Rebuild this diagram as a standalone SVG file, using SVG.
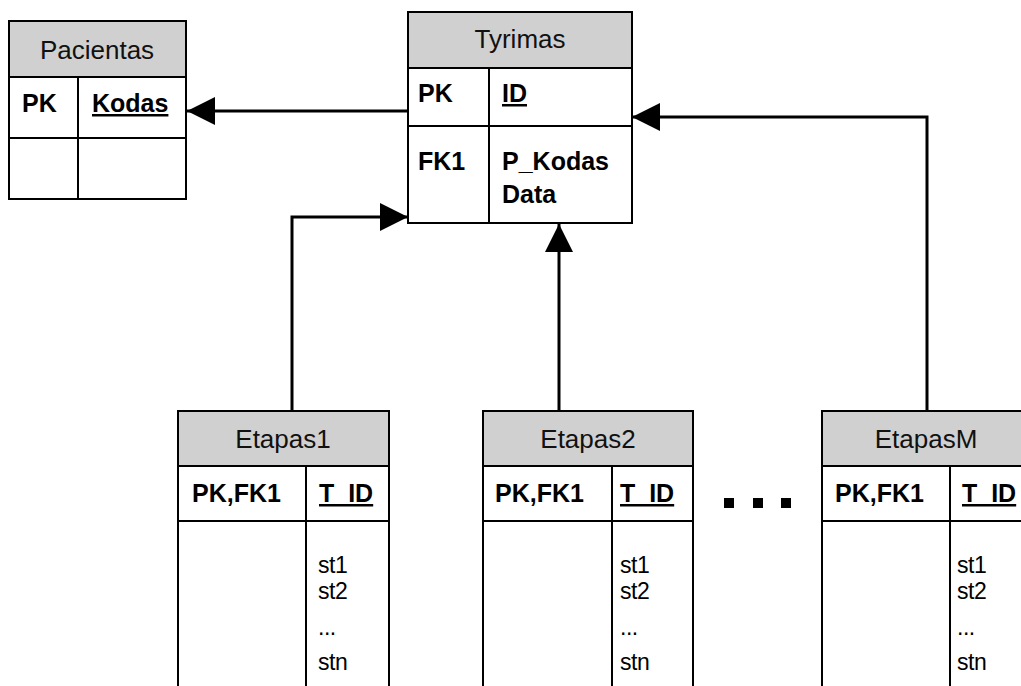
<svg xmlns="http://www.w3.org/2000/svg" width="1021" height="686" viewBox="0 0 1021 686">
  <style>
    .box { fill: #ffffff; stroke: #000000; stroke-width: 2; }
    .head { fill: #d0d0d0; stroke: #000000; stroke-width: 2; }
    .div { stroke: #000000; stroke-width: 2; fill: none; }
    .title { font-family: "Liberation Sans", Arial, sans-serif; font-size: 26px; fill: #111111; text-anchor: middle; }
    .key { font-family: "Liberation Sans", Arial, sans-serif; font-size: 25px; font-weight: bold; fill: #000000; }
    .ul { text-decoration: underline; }
    .attr { font-family: "Liberation Sans", Arial, sans-serif; font-size: 23px; fill: #000000; letter-spacing: -0.5px; }
    .conn { stroke: #000000; stroke-width: 3; fill: none; }
  </style>
  <defs>
    <marker id="arrow" viewBox="0 0 28 28" refX="28" refY="14" markerWidth="28" markerHeight="28" markerUnits="userSpaceOnUse" orient="auto">
      <path d="M0,0 L28,14 L0,28 Z" fill="#000000"/>
    </marker>
  </defs>

  <!-- relationships -->
  <g id="connectors">
    <path class="conn" d="M409,111 L187,111" marker-end="url(#arrow)"/>
    <path class="conn" d="M292,411 L292,217 L408,217" marker-end="url(#arrow)"/>
    <path class="conn" d="M559,411 L559,224" marker-end="url(#arrow)"/>
    <path class="conn" d="M927,411 L927,117 L632,117" marker-end="url(#arrow)"/>
  </g>

  <!-- Pacientas table -->
  <g id="pacientas">
    <rect class="box" x="9" y="21" width="177" height="178"/>
    <rect class="head" x="9" y="21" width="177" height="56"/>
    <line class="div" x1="9" y1="138" x2="186" y2="138"/>
    <line class="div" x1="78" y1="77" x2="78" y2="199"/>
    <text class="title" x="97" y="59">Pacientas</text>
    <text class="key" x="22" y="112">PK</text>
    <text class="key ul" x="92" y="112">Kodas</text>
  </g>

  <!-- Tyrimas table -->
  <g id="tyrimas">
    <rect class="box" x="408" y="12" width="224" height="211"/>
    <rect class="head" x="408" y="12" width="224" height="56"/>
    <line class="div" x1="408" y1="126" x2="632" y2="126"/>
    <line class="div" x1="489" y1="68" x2="489" y2="223"/>
    <text class="title" x="520" y="48">Tyrimas</text>
    <text class="key" x="418" y="102">PK</text>
    <text class="key ul" x="502" y="102">ID</text>
    <text class="key" x="418" y="170">FK1</text>
    <text class="key" x="502" y="170">P_Kodas</text>
    <text class="key" x="502" y="203">Data</text>
  </g>

  <!-- Etapas1 table -->
  <g id="etapas1">
    <path class="box" d="M178,690 L178,411 L389,411 L389,690"/>
    <rect class="head" x="178" y="411" width="211" height="55"/>
    <line class="div" x1="178" y1="521" x2="389" y2="521"/>
    <line class="div" x1="306" y1="466" x2="306" y2="690"/>
    <text class="title" x="283" y="448">Etapas1</text>
    <text class="key" x="192" y="502">PK,FK1</text>
    <text class="key ul" x="319" y="502">T_ID</text>
    <text class="attr" x="318" y="573">st1</text>
    <text class="attr" x="318" y="599">st2</text>
    <text class="attr" x="318" y="635">...</text>
    <text class="attr" x="318" y="670">stn</text>
  </g>

  <!-- Etapas2 table -->
  <g id="etapas2">
    <path class="box" d="M483,690 L483,411 L693,411 L693,690"/>
    <rect class="head" x="483" y="411" width="210" height="55"/>
    <line class="div" x1="483" y1="521" x2="693" y2="521"/>
    <line class="div" x1="612" y1="466" x2="612" y2="690"/>
    <text class="title" x="588" y="448">Etapas2</text>
    <text class="key" x="495" y="502">PK,FK1</text>
    <text class="key ul" x="620" y="502">T_ID</text>
    <text class="attr" x="620" y="573">st1</text>
    <text class="attr" x="620" y="599">st2</text>
    <text class="attr" x="620" y="635">...</text>
    <text class="attr" x="620" y="670">stn</text>
  </g>

  <!-- ellipsis between tables -->
  <g id="ellipsis" fill="#000000">
    <rect x="724" y="498" width="10" height="10"/>
    <rect x="753" y="498" width="10" height="10"/>
    <rect x="781" y="498" width="10" height="10"/>
  </g>

  <!-- EtapasM table -->
  <g id="etapasM">
    <path class="box" d="M822,690 L822,411 L1033,411 L1033,690"/>
    <rect class="head" x="822" y="411" width="211" height="55"/>
    <line class="div" x1="822" y1="521" x2="1033" y2="521"/>
    <line class="div" x1="950" y1="466" x2="950" y2="690"/>
    <text class="title" x="926" y="448">EtapasM</text>
    <text class="key" x="835" y="502">PK,FK1</text>
    <text class="key ul" x="962" y="502">T_ID</text>
    <text class="attr" x="957" y="573">st1</text>
    <text class="attr" x="957" y="599">st2</text>
    <text class="attr" x="957" y="635">...</text>
    <text class="attr" x="957" y="670">stn</text>
  </g>
</svg>
